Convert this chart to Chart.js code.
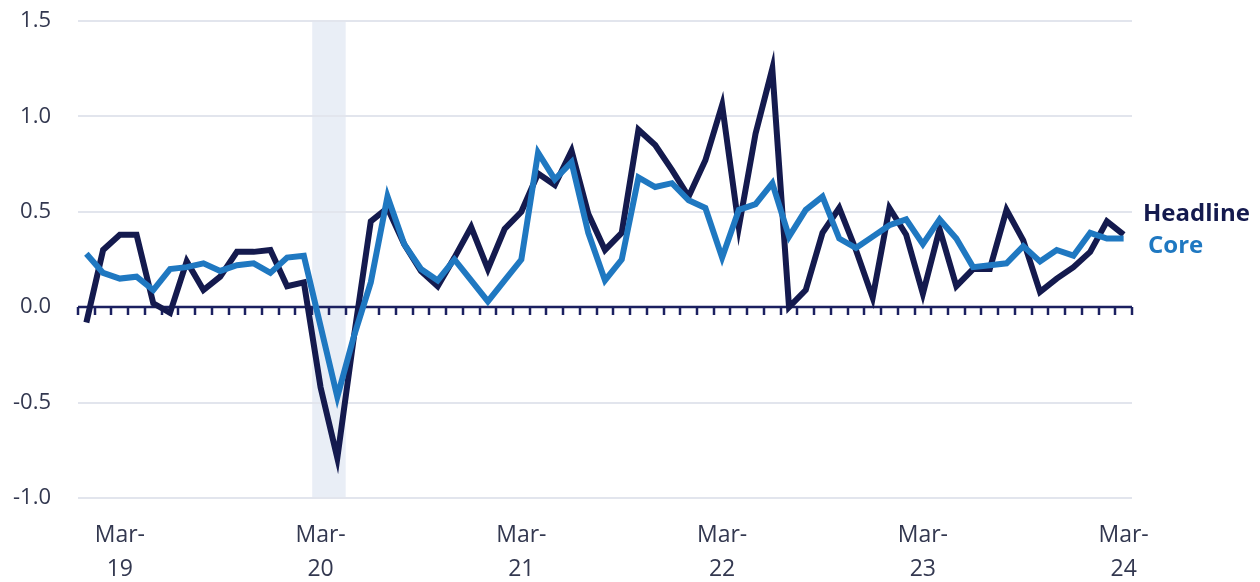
<!DOCTYPE html>
<html>
<head>
<meta charset="utf-8">
<script src="https://cdn.jsdelivr.net/npm/chart.js@4"></script>
<style>
  html, body { margin: 0; padding: 0; background: #fff; }
  #wrap { width: 1260px; height: 582px; position: relative; }
</style>
</head>
<body>
<div id="wrap"><canvas id="js--chart"></canvas></div>
<script>
// maanden jan-19 t/m mar-24
const months = [
  "Jan-19","Feb-19","Mar-19","Apr-19","May-19","Jun-19","Jul-19","Aug-19","Sep-19","Oct-19","Nov-19","Dec-19",
  "Jan-20","Feb-20","Mar-20","Apr-20","May-20","Jun-20","Jul-20","Aug-20","Sep-20","Oct-20","Nov-20","Dec-20",
  "Jan-21","Feb-21","Mar-21","Apr-21","May-21","Jun-21","Jul-21","Aug-21","Sep-21","Oct-21","Nov-21","Dec-21",
  "Jan-22","Feb-22","Mar-22","Apr-22","May-22","Jun-22","Jul-22","Aug-22","Sep-22","Oct-22","Nov-22","Dec-22",
  "Jan-23","Feb-23","Mar-23","Apr-23","May-23","Jun-23","Jul-23","Aug-23","Sep-23","Oct-23","Nov-23","Dec-23",
  "Jan-24","Feb-24","Mar-24"
];

const headline = [
  -0.08, 0.30, 0.38, 0.38, 0.02, -0.03, 0.24, 0.09, 0.16, 0.29, 0.29, 0.30,
  0.11, 0.13, -0.42, -0.79, -0.15, 0.45, 0.52, 0.33, 0.19, 0.11, 0.26, 0.42,
  0.20, 0.41, 0.50, 0.70, 0.64, 0.82, 0.49, 0.30, 0.39, 0.93, 0.85, 0.72,
  0.58, 0.77, 1.06, 0.42, 0.91, 1.25, 0.00, 0.09, 0.39, 0.52, 0.30, 0.05,
  0.52, 0.38, 0.07, 0.41, 0.11, 0.20, 0.20, 0.51, 0.35, 0.08, 0.15, 0.21,
  0.29, 0.45, 0.38
];

const core = [
  0.28, 0.18, 0.15, 0.16, 0.09, 0.20, 0.21, 0.23, 0.19, 0.22, 0.23, 0.18,
  0.26, 0.27, -0.10, -0.47, -0.15, 0.13, 0.58, 0.33, 0.20, 0.14, 0.25, 0.14,
  0.03, 0.14, 0.25, 0.81, 0.67, 0.76, 0.39, 0.14, 0.25, 0.68, 0.63, 0.65,
  0.56, 0.52, 0.26, 0.51, 0.54, 0.65, 0.37, 0.51, 0.58, 0.36, 0.31, 0.37,
  0.43, 0.46, 0.33, 0.46, 0.36, 0.21, 0.22, 0.23, 0.32, 0.24, 0.30, 0.27,
  0.39, 0.36, 0.36
];

const yTicks = [-1.0, -0.5, 0.0, 0.5, 1.0, 1.5];
const recession = ["Mar-20", "Apr-20"];

const navy = "#141a4e";
const blue = "#1f78c1";
const txt = "#333850";

// grijze balk, nullijn met maandstreepjes en de labels rechts
const extras = {
  id: "extras",
  beforeDraw(chart) {
    const ctx = chart.ctx, a = chart.chartArea, x = chart.scales.x;
    const x1 = x.getPixelForValue(months.indexOf(recession[0]) - 0.5);
    const x2 = x.getPixelForValue(months.indexOf(recession[1]) + 0.5);
    ctx.save();
    ctx.fillStyle = "#e9eef6";
    ctx.fillRect(x1, a.top, x2 - x1, a.bottom - a.top);
    ctx.restore();
  },
  beforeDatasetsDraw(chart) {
    const ctx = chart.ctx, a = chart.chartArea;
    const y0 = Math.round(chart.scales.y.getPixelForValue(0));
    ctx.save();
    ctx.strokeStyle = "#1b2060";
    ctx.lineWidth = 2.5;
    ctx.beginPath();
    ctx.moveTo(a.left, y0);
    ctx.lineTo(a.right, y0);
    ctx.stroke();
    const step = (a.right - a.left) / months.length;
    for (let i = 0; i <= months.length; i++) {
      const xx = Math.round(a.left + i * step);
      ctx.beginPath();
      ctx.moveTo(xx, y0);
      ctx.lineTo(xx, y0 + 8);
      ctx.stroke();
    }
    ctx.restore();
  },
  afterDraw(chart) {
    const ctx = chart.ctx, a = chart.chartArea, y = chart.scales.y;
    ctx.save();
    ctx.font = "bold 24px 'Open Sans'";
    ctx.textBaseline = "middle";
    ctx.fillStyle = navy;
    ctx.fillText("Headline", a.right + 11, y.getPixelForValue(0.49));
    ctx.fillStyle = blue;
    ctx.fillText("Core", a.right + 16, y.getPixelForValue(0.32));
    ctx.restore();
  }
};

const data = {
  labels: months,
  datasets: [
    {
      label: "Core",
      data: core,
      borderColor: blue,
      borderWidth: 6,
      pointRadius: 0,
      tension: 0,
      order: 0
    },
    {
      label: "Headline",
      data: headline,
      borderColor: navy,
      borderWidth: 6,
      pointRadius: 0,
      tension: 0,
      order: 1
    }
  ]
};

const config = {
  type: "line",
  data: data,
  options: {
    responsive: true,
    maintainAspectRatio: false,
    animation: false,
    layout: { padding: { top: 21, right: 128, bottom: 0, left: 0 } },
    plugins: {
      legend: { display: false },
      tooltip: { enabled: false }
    },
    scales: {
      x: {
        type: "category",
        offset: true,
        grid: { display: false, drawTicks: false },
        border: { display: false },
        afterFit: (s) => { s.height = 84; },
        ticks: {
          autoSkip: false,
          maxRotation: 0,
          padding: 20,
          color: txt,
          font: { family: "'Open Sans'", size: 23, lineHeight: 1.5 },
          callback: function (v, i) {
            const m = months[i];
            return m.startsWith("Mar") ? ["Mar-", m.slice(4)] : null;
          }
        }
      },
      y: {
        min: yTicks[0],
        max: yTicks[yTicks.length - 1],
        afterFit: (s) => {
          s.width = 78;
          s.paddingTop = 0;
          s.paddingBottom = 0;
        },
        afterBuildTicks: (s) => { s.ticks = yTicks.map(v => ({ value: v })); },
        grid: {
          drawTicks: false,
          lineWidth: 2,
          color: (c) => c.tick && c.tick.value === 0 ? "rgba(0,0,0,0)" : "#e2e5ed"
        },
        border: { display: false },
        ticks: {
          padding: 27,
          color: txt,
          font: { family: "'Open Sans'", size: 22 },
          callback: (v) => v.toFixed(1)
        }
      }
    }
  },
  plugins: [extras]
};

new Chart(document.getElementById("js--chart"), config);
</script>
</body>
</html>
